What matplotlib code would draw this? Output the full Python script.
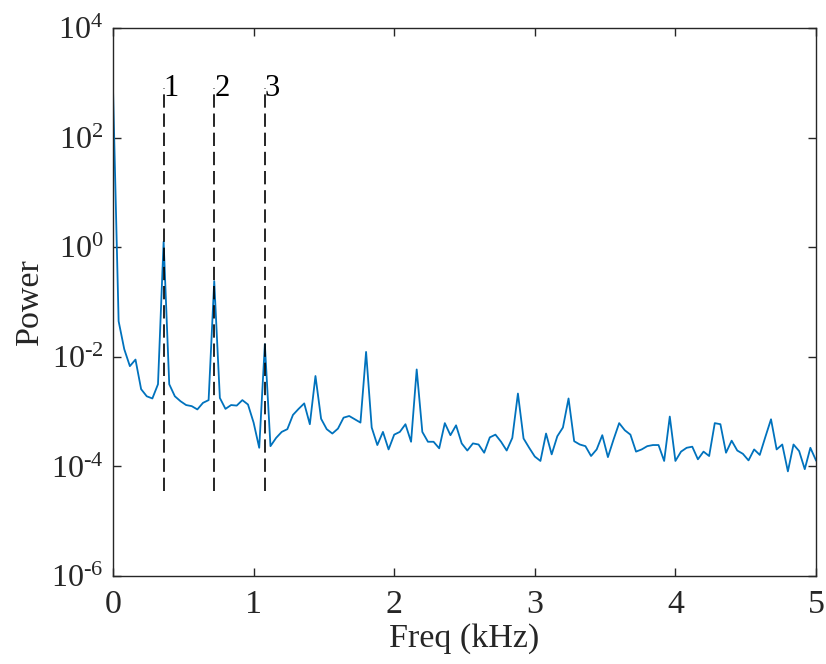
import numpy as np
import matplotlib
matplotlib.use('Agg')
import matplotlib.pyplot as plt
from matplotlib.ticker import FixedLocator, FuncFormatter, NullLocator

freq_khz = np.arange(126) * 0.04
log_power = [
    2.90, -1.35, -1.86, -2.17, -2.05, -2.59, -2.72, -2.76, -2.50, 0.10,
    -2.50, -2.72, -2.81, -2.88, -2.90, -2.96, -2.84, -2.79, -0.62, -2.75,
    -2.95, -2.88, -2.89, -2.79, -2.87, -3.20, -3.66, -1.77, -3.63, -3.48,
    -3.37, -3.32, -3.06, -2.95, -2.85, -3.23, -2.35, -3.13, -3.32, -3.40,
    -3.31, -3.11, -3.08, -3.14, -3.20, -1.91, -3.29, -3.61, -3.37, -3.69,
    -3.42, -3.37, -3.23, -3.55, -2.23, -3.37, -3.55, -3.55, -3.67, -3.21,
    -3.43, -3.25, -3.58, -3.71, -3.58, -3.60, -3.75, -3.47, -3.42, -3.55,
    -3.71, -3.48, -2.67, -3.49, -3.66, -3.82, -3.90, -3.40, -3.78, -3.45,
    -3.29, -2.76, -3.54, -3.60, -3.63, -3.81, -3.69, -3.43, -3.83, -3.51,
    -3.21, -3.34, -3.42, -3.73, -3.69, -3.63, -3.61, -3.61, -3.90, -3.09,
    -3.90, -3.73, -3.66, -3.64, -3.87, -3.73, -3.81, -3.21, -3.23, -3.75,
    -3.53, -3.71, -3.77, -3.89, -3.69, -3.79, -3.46, -3.14, -3.69, -3.60,
    -4.09, -3.60, -3.72, -4.05, -3.66, -3.89,
]
power = 10.0 ** np.array(log_power)

# harmonic markers
peak_freqs = [0.36, 0.72, 1.08]
peak_labels = ['1', '2', '3']
marker_lo, marker_hi = 3.5e-5, 800

y_ticks = [1e-6, 1e-4, 1e-2, 1e0, 1e2, 1e4]
x_ticks = [0, 1, 2, 3, 4, 5]

plt.rcParams['font.family'] = 'Liberation Serif'
plt.rcParams['mathtext.fontset'] = 'custom'
plt.rcParams['mathtext.rm'] = 'Liberation Serif'
plt.rcParams['mathtext.it'] = 'Liberation Serif:italic'
plt.rcParams['font.size'] = 24.5

axis_gray = '#262626'


def pow_label(v, pos):
    e = int(round(np.log10(v)))
    if e < 0:
        # matlab prints a short hyphen, not a minus
        return r'$10^{\text{-}%d}$' % (-e)
    return r'$10^{%d}$' % e


fig = plt.figure(figsize=(8.26, 6.64), dpi=100)
ax = fig.add_axes([0.1368, 0.1325, 0.8511, 0.8253])

ax.plot(freq_khz, power, color='#0072BD', lw=1.3)

for f, lab in zip(peak_freqs, peak_labels):
    ax.plot([f, f], [marker_lo, marker_hi], color='k', lw=1.2,
            linestyle=(0, (8, 3.5)))
    ax.text(f, marker_hi, lab, ha='left', va='center', fontsize=22)

ax.set_yscale('log')
ax.set_xlim(0, 5)
ax.set_ylim(1e-6, 1e4)
ax.xaxis.set_major_locator(FixedLocator(x_ticks))
ax.yaxis.set_major_locator(FixedLocator(y_ticks))
ax.yaxis.set_minor_locator(NullLocator())
ax.yaxis.set_major_formatter(FuncFormatter(pow_label))

ax.tick_params(direction='in', top=True, right=True, length=6,
               width=1, colors=axis_gray, pad=7, labelcolor=axis_gray)
ax.tick_params(axis='x', pad=10)
ax.tick_params(axis='y', labelsize=23)
for s in ax.spines.values():
    s.set_color(axis_gray)
    s.set_linewidth(1)

ax.set_xlabel('Freq (kHz)', color=axis_gray, labelpad=2)
ax.set_ylabel('Power', color=axis_gray, labelpad=4)

fig.savefig('out.png', dpi=100)
